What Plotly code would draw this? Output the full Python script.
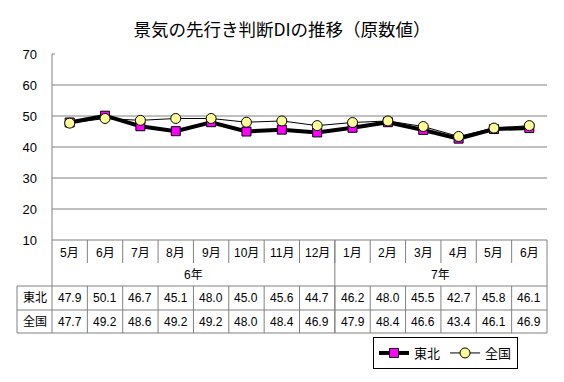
import plotly.graph_objects as go

months = ["5月", "6月", "7月", "8月", "9月", "10月", "11月", "12月",
          "1月", "2月", "3月", "4月", "5月", "6月"]
years = ["6年", "7年"]
year_span = [8, 6]  # number of months under each year
tohoku = [47.9, 50.1, 46.7, 45.1, 48.0, 45.0, 45.6, 44.7, 46.2, 48.0, 45.5, 42.7, 45.8, 46.1]
zenkoku = [47.7, 49.2, 48.6, 49.2, 49.2, 48.0, 48.4, 46.9, 47.9, 48.4, 46.6, 43.4, 46.1, 46.9]
series_names = ["東北", "全国"]
y_ticks = [10, 20, 30, 40, 50, 60, 70]
grid_vals = [20, 30, 40, 50, 60]

# page body has an 8px margin; work in screen pixels and convert
OFF = 8
W, H = 564 - OFF, 382 - OFF
S_LEFT, S_RIGHT, S_TOP, S_BOT = 52, 547, 54, 240  # plot area in screen pixels
ML = S_LEFT - OFF
MT = S_TOP - OFF
PW = S_RIGHT - S_LEFT
PH = S_BOT - S_TOP
MR = W - ML - PW
MB = H - MT - PH
n = len(months)
FONT = "Arial, 'Liberation Sans', 'Noto Sans CJK JP', sans-serif"
LINE = "#808080"


def py(p):  # screen pixel y -> paper y
    return (S_BOT - p) / PH


def px(p):  # screen pixel x -> paper x
    return (p - S_LEFT) / PW


def bx(i):  # boundary after category i -> paper x
    return (i + 1) / n


def mx(i):  # centre of category i -> paper x
    return (i + 0.5) / n


x_idx = list(range(n))
fig = go.Figure()
fig.add_trace(go.Scatter(
    x=x_idx, y=tohoku, name=series_names[0], mode="lines+markers",
    line=dict(color="black", width=4),
    marker=dict(symbol="square", size=9, color="#FF00FF", line=dict(color="black", width=1)),
))
fig.add_trace(go.Scatter(
    x=x_idx, y=zenkoku, name=series_names[1], mode="lines+markers",
    line=dict(color="black", width=1),
    marker=dict(symbol="circle", size=10, color="#FFFF99", line=dict(color="black", width=1)),
))

shapes = []
for g in grid_vals:
    shapes.append(dict(type="line", xref="paper", yref="y", x0=0, x1=1, y0=g, y1=g,
                       line=dict(color=LINE, width=1), layer="below"))

# table geometry (screen pixels)
t_top, m_bot, y_bot, r1_bot, r2_bot = 240, 263, 286, 310, 333
hdr_left = 17


def hline(x0, x1, p):
    shapes.append(dict(type="line", xref="paper", yref="paper", x0=x0, x1=x1, y0=py(p), y1=py(p),
                       line=dict(color=LINE, width=1)))


def vline(x, p0, p1):
    shapes.append(dict(type="line", xref="paper", yref="paper", x0=x, x1=x, y0=py(p0), y1=py(p1),
                       line=dict(color=LINE, width=1)))


hline(0, 1, t_top)
hline(px(hdr_left), 1, y_bot)
hline(px(hdr_left), 1, r1_bot)
hline(px(hdr_left), 1, r2_bot)
vline(0, S_TOP, r2_bot)
vline(1, t_top, r2_bot)
vline(px(hdr_left), y_bot, r2_bot)
shapes.append(dict(type="line", xref="paper", yref="paper", x0=0, x1=px(55), y0=1, y1=1,
                   line=dict(color=LINE, width=1)))
acc = 0
for span in year_span[:-1]:
    acc += span
    vline(bx(acc - 1), t_top, r2_bot)
for i in range(n - 1):
    vline(bx(i), t_top, m_bot)
    vline(bx(i), y_bot, r2_bot)

ann = []
fs = 12
for i, m in enumerate(months):
    ann.append(dict(x=mx(i), y=py((t_top + m_bot) / 2 + 1), text=m))
    ann.append(dict(x=mx(i), y=py((y_bot + r1_bot) / 2), text=f"{tohoku[i]:.1f}"))
    ann.append(dict(x=mx(i), y=py((r1_bot + r2_bot) / 2), text=f"{zenkoku[i]:.1f}"))
acc = 0
for yl, span in zip(years, year_span):
    ann.append(dict(x=(acc + span / 2) / n, y=py((m_bot + y_bot) / 2), text=yl))
    acc += span
ann.append(dict(x=px(hdr_left) / 2, y=py((y_bot + r1_bot) / 2), text=series_names[0]))
ann.append(dict(x=px(hdr_left) / 2, y=py((r1_bot + r2_bot) / 2), text=series_names[1]))
for a in ann:
    a.update(xref="paper", yref="paper", showarrow=False, xanchor="center", yanchor="middle",
             font=dict(size=fs, color="black", family=FONT))

fig.update_layout(
    width=W, height=H,
    margin=dict(l=ML, r=MR, t=MT, b=MB, autoexpand=False),
    paper_bgcolor="white", plot_bgcolor="white",
    title=dict(text="景気の先行き判断DIの推移（原数値）", x=(282 - OFF) / W, xref="container",
               xanchor="center", y=1 - (30 - OFF) / H, yref="container", yanchor="middle",
               font=dict(size=17.5, color="black", family="'Noto Sans CJK JP', sans-serif")),
    xaxis=dict(range=[-0.5, n - 0.5], showticklabels=False, showgrid=False, zeroline=False,
               showline=False, ticks=""),
    yaxis=dict(range=[10, 70], tickvals=y_ticks, showgrid=False, zeroline=False,
               showline=False, ticks="", ticklabelstandoff=14,
               tickfont=dict(size=13, color="black", family=FONT)),
    shapes=shapes, annotations=ann,
    showlegend=True,
    legend=dict(orientation="h", x=px(373), xanchor="left", y=py(337), yanchor="top",
                bordercolor="black", borderwidth=1, bgcolor="white",
                font=dict(size=13, color="black", family=FONT), itemwidth=30,
                tracegroupgap=0),
)

fig.write_html("out.html")
